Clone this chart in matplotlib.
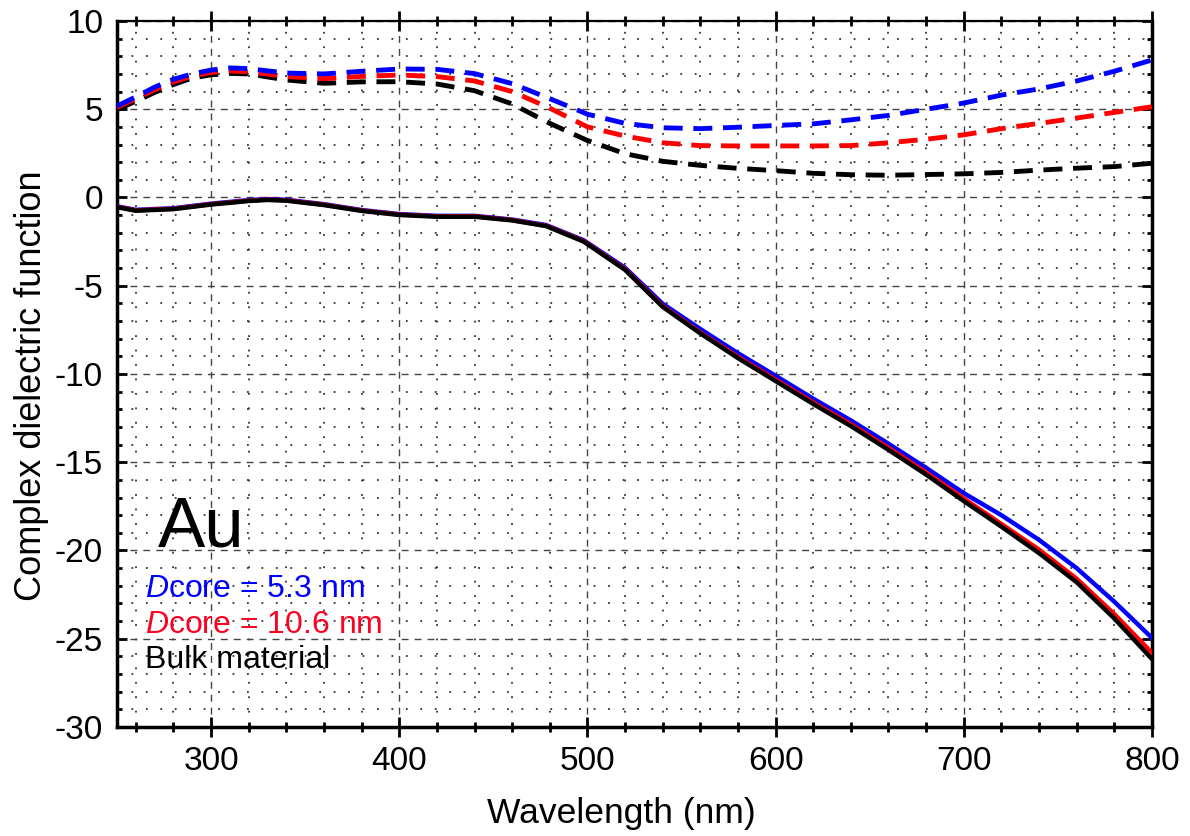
import matplotlib

matplotlib.use("Agg")
import matplotlib.pyplot as plt  # noqa: E402
from matplotlib.ticker import MultipleLocator  # noqa: E402

plt.rcParams["font.family"] = ["Liberation Sans", "DejaVu Sans"]
plt.rcParams["mathtext.fontset"] = "custom"
plt.rcParams["mathtext.rm"] = "Liberation Sans"
plt.rcParams["mathtext.it"] = "Liberation Sans:italic"
plt.rcParams["axes.unicode_minus"] = False

# real part (eps1), solid lines
wl_re = [250, 260, 280, 300, 320, 330, 340, 360, 380, 400, 420, 440, 460,
         478, 498, 520, 540, 560, 580, 600, 620, 640, 660, 680, 700, 720,
         740, 760, 780, 800]
re_bulk = [-0.55, -0.75, -0.66, -0.40, -0.20, -0.14, -0.18, -0.43, -0.76,
           -0.99, -1.09, -1.09, -1.30, -1.62, -2.50, -4.10, -6.20, -7.70,
           -9.10, -10.40, -11.70, -12.95, -14.30, -15.70, -17.20, -18.65,
           -20.15, -21.80, -23.85, -26.15]
re_106 = [-0.53, -0.73, -0.64, -0.38, -0.18, -0.12, -0.16, -0.41, -0.74,
          -0.97, -1.07, -1.07, -1.28, -1.60, -2.47, -4.06, -6.15, -7.65,
          -9.03, -10.32, -11.61, -12.85, -14.18, -15.57, -17.05, -18.50,
          -19.95, -21.60, -23.60, -25.80]
re_53 = [-0.50, -0.70, -0.61, -0.35, -0.15, -0.09, -0.13, -0.38, -0.71,
         -0.94, -1.04, -1.04, -1.25, -1.56, -2.42, -3.98, -6.02, -7.45,
         -8.82, -10.10, -11.40, -12.63, -13.95, -15.32, -16.75, -18.00,
         -19.40, -21.00, -22.90, -24.95]

# imaginary part (eps2), dashed lines
wl_im = [250, 260, 270, 280, 290, 300, 310, 320, 340, 360, 380, 400, 420,
         440, 460, 480, 500, 520, 540, 560, 580, 600, 620, 640, 660, 680,
         700, 720, 740, 760, 780, 800]
im_53 = [5.18, 5.70, 6.25, 6.70, 7.00, 7.22, 7.34, 7.30, 7.05, 7.00, 7.15,
         7.28, 7.26, 7.02, 6.45, 5.60, 4.72, 4.20, 3.95, 3.90, 3.98, 4.08,
         4.17, 4.40, 4.65, 5.00, 5.35, 5.80, 6.15, 6.60, 7.15, 7.79]
im_106 = [5.10, 5.60, 6.10, 6.55, 6.88, 7.08, 7.17, 7.12, 6.85, 6.73, 6.86,
          6.94, 6.85, 6.60, 6.00, 5.06, 4.00, 3.48, 3.10, 2.94, 2.92, 2.92,
          2.92, 2.94, 3.10, 3.30, 3.55, 3.90, 4.20, 4.50, 4.82, 5.14]
im_bulk = [4.98, 5.45, 5.95, 6.40, 6.77, 6.95, 7.03, 7.00, 6.66, 6.47, 6.55,
           6.56, 6.43, 6.05, 5.30, 4.20, 3.23, 2.48, 2.05, 1.82, 1.65, 1.52,
           1.37, 1.29, 1.26, 1.30, 1.34, 1.42, 1.55, 1.66, 1.75, 1.94]

labels = [r"$\mathit{D}$core = 5.3 nm", r"$\mathit{D}$core = 10.6 nm",
          "Bulk material"]
label_colors = ["#0000ff", "#ff0022", "#000000"]

fig = plt.figure(figsize=(11.9, 8.36), dpi=100)
ax = fig.add_axes([0.0983, 0.1304, 0.8697, 0.8445])

dash = (3.9, 2.2)
ax.plot(wl_im, im_bulk, color="black", lw=3.5, dashes=dash, zorder=3)
ax.plot(wl_im, im_106, color="#ff0000", lw=3.5, dashes=dash, zorder=3)
ax.plot(wl_im, im_53, color="#0000ff", lw=3.5, dashes=dash, zorder=3)

ax.plot(wl_re, re_53, color="#0000ff", lw=3.2, zorder=3)
ax.plot(wl_re, re_106, color="#ff0000", lw=3.2, zorder=3)
ax.plot(wl_re, re_bulk, color="black", lw=3.2, zorder=3)

ax.set_xlim(250, 800)
ax.set_ylim(-30, 10)
ax.xaxis.set_major_locator(MultipleLocator(100))
ax.xaxis.set_minor_locator(MultipleLocator(20))
ax.yaxis.set_major_locator(MultipleLocator(5))
ax.yaxis.set_minor_locator(MultipleLocator(1))
ax.set_xticks([300, 400, 500, 600, 700, 800])

ax.grid(which="major", color="#444444", lw=1.0, linestyle=(0, (5, 4.3)))
ax.grid(which="minor", color="#333333", lw=1.3, linestyle=(0, (1, 7)))
ax.set_axisbelow(True)

ax.tick_params(which="both", direction="in", top=True, right=True,
               labelsize=24, width=2.0)
ax.tick_params(axis="y", which="major", length=7, pad=10)
ax.tick_params(axis="y", which="minor", length=3.6)
ax.tick_params(axis="x", which="major", direction="inout", length=15, pad=6)
ax.tick_params(axis="x", which="minor", direction="inout", length=7)
for side in ("left", "bottom", "right"):
    ax.spines[side].set_linewidth(2.5)
ax.spines["top"].set_linewidth(1.6)

ax.set_xlabel("Wavelength (nm)", fontsize=25.5)
ax.set_ylabel("Complex dielectric function", fontsize=26)
ax.xaxis.set_label_coords(0.487, -0.099)
ax.yaxis.set_label_coords(-0.066, 0.484)

ax.text(271.8, -19.8, "Au", fontsize=51, va="baseline", ha="left")
for i, (txt, col) in enumerate(zip(labels, label_colors)):
    ax.text(264.9, -22.63 - 2.02 * i, txt, fontsize=23, color=col,
            va="baseline", ha="left")

fig.savefig("out.png", dpi=100)
